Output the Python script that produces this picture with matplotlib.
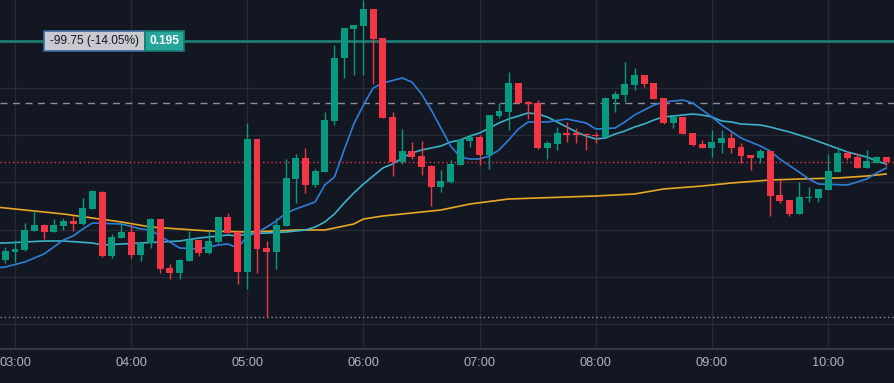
import numpy as np
import matplotlib.pyplot as plt
from matplotlib.patches import Rectangle

# 5-minute candles, first one at 02:55
opens = [0.1731, 0.1739, 0.1741, 0.1760, 0.1766, 0.1759, 0.1765, 0.1770, 0.1767, 0.1782,
         0.1799, 0.1735, 0.1753, 0.1759, 0.1736, 0.1748, 0.1772, 0.1723, 0.1718, 0.1730,
         0.1751, 0.1738, 0.1749, 0.1774, 0.1759, 0.1719, 0.1852, 0.1743, 0.1739, 0.1765,
         0.1812, 0.1833, 0.1806, 0.1819, 0.1870, 0.1933, 0.1962, 0.1965, 0.1982, 0.1953,
         0.1874, 0.1829, 0.1840, 0.1835, 0.1825, 0.1804, 0.1809, 0.1826, 0.1850, 0.1854,
         0.1836, 0.1875, 0.1879, 0.1908, 0.1889, 0.1888, 0.1843, 0.1847, 0.1858, 0.1858,
         0.1857, 0.1856, 0.1854, 0.1892, 0.1896, 0.1906, 0.1916, 0.1908, 0.1893, 0.1868,
         0.1874, 0.1858, 0.1847, 0.1843, 0.1848, 0.1853, 0.1844, 0.1836, 0.1833, 0.1840,
         0.1796, 0.1791, 0.1777, 0.1793, 0.1793, 0.1801, 0.1819, 0.1838, 0.1834, 0.1823,
         0.1828, 0.1834]
highs = [0.1744, 0.1751, 0.1768, 0.1780, 0.1767, 0.1772, 0.1773, 0.1775, 0.1793, 0.1801,
         0.1800, 0.1757, 0.1767, 0.1767, 0.1748, 0.1773, 0.1772, 0.1727, 0.1732, 0.1760,
         0.1751, 0.1760, 0.1774, 0.1778, 0.1761, 0.1868, 0.1852, 0.1750, 0.1773, 0.1832,
         0.1837, 0.1843, 0.1822, 0.1879, 0.1946, 0.1963, 0.1966, 0.1991, 0.1982, 0.1953,
         0.1879, 0.1862, 0.1849, 0.1850, 0.1826, 0.1821, 0.1831, 0.1852, 0.1857, 0.1856,
         0.1876, 0.1888, 0.1919, 0.1908, 0.1890, 0.1891, 0.1850, 0.1864, 0.1869, 0.1863,
         0.1858, 0.1859, 0.1894, 0.1900, 0.1929, 0.1923, 0.1916, 0.1908, 0.1893, 0.1874,
         0.1874, 0.1858, 0.1851, 0.1861, 0.1861, 0.1859, 0.1848, 0.1836, 0.1842, 0.1840,
         0.1811, 0.1791, 0.1809, 0.1804, 0.1802, 0.1837, 0.1844, 0.1840, 0.1838, 0.1841,
         0.1835, 0.1834]
lows = [0.1728, 0.1729, 0.1740, 0.1760, 0.1752, 0.1759, 0.1761, 0.1760, 0.1766, 0.1782,
        0.1734, 0.1733, 0.1753, 0.1733, 0.1730, 0.1743, 0.1718, 0.1712, 0.1712, 0.1730,
        0.1735, 0.1737, 0.1748, 0.1758, 0.1707, 0.1702, 0.1718, 0.1674, 0.1722, 0.1765,
        0.1788, 0.1798, 0.1804, 0.1819, 0.1866, 0.1913, 0.1916, 0.1916, 0.1907, 0.1873,
        0.1815, 0.1827, 0.1832, 0.1816, 0.1785, 0.1799, 0.1808, 0.1826, 0.1844, 0.1826,
        0.1822, 0.1873, 0.1861, 0.1888, 0.1872, 0.1842, 0.1832, 0.1841, 0.1849, 0.1848,
        0.1841, 0.1848, 0.1854, 0.1879, 0.1889, 0.1901, 0.1904, 0.1892, 0.1867, 0.1863,
        0.1857, 0.1845, 0.1843, 0.1834, 0.1838, 0.1838, 0.1828, 0.1821, 0.1828, 0.1775,
        0.1788, 0.1775, 0.1777, 0.1789, 0.1789, 0.1801, 0.1819, 0.1831, 0.1823, 0.1823,
        0.1828, 0.1825]
closes = [0.1740, 0.1742, 0.1761, 0.1766, 0.1759, 0.1766, 0.1770, 0.1767, 0.1783, 0.1800,
          0.1735, 0.1754, 0.1759, 0.1736, 0.1748, 0.1772, 0.1722, 0.1718, 0.1731, 0.1751,
          0.1738, 0.1750, 0.1774, 0.1758, 0.1719, 0.1852, 0.1742, 0.1739, 0.1766, 0.1813,
          0.1833, 0.1806, 0.1820, 0.1871, 0.1933, 0.1963, 0.1966, 0.1982, 0.1952, 0.1873,
          0.1829, 0.1840, 0.1834, 0.1824, 0.1804, 0.1810, 0.1827, 0.1851, 0.1854, 0.1836,
          0.1876, 0.1880, 0.1908, 0.1888, 0.1887, 0.1843, 0.1848, 0.1858, 0.1856, 0.1856,
          0.1856, 0.1855, 0.1893, 0.1897, 0.1907, 0.1916, 0.1907, 0.1892, 0.1868, 0.1874,
          0.1857, 0.1846, 0.1843, 0.1849, 0.1853, 0.1843, 0.1835, 0.1833, 0.1840, 0.1795,
          0.1790, 0.1777, 0.1794, 0.1794, 0.1802, 0.1820, 0.1838, 0.1833, 0.1823, 0.1830,
          0.1834, 0.1829]

# moving average lines (x = candle index)
fast_x = [-1, 0, 2, 4, 6, 7, 8, 9, 12, 14, 15, 17, 18, 20, 22, 23, 24, 25, 26, 28, 29, 30,
          32, 33, 34, 35, 36, 37, 38, 39, 41, 42, 43, 44, 45, 46, 47, 48, 49, 50, 51, 52,
          53, 54, 56, 58, 59, 60, 61, 63, 64, 65, 66, 67, 68, 70, 71, 72, 73, 74, 76, 78,
          79, 80, 82, 83, 84, 87, 89, 90, 91]
fast_y = [0.1723, 0.1724, 0.1729, 0.1737, 0.1751, 0.1755, 0.1762, 0.1768, 0.1767, 0.1762,
          0.1761, 0.1749, 0.1743, 0.1742, 0.1746, 0.1747, 0.1743, 0.1755, 0.1758, 0.1770,
          0.1778, 0.1782, 0.1789, 0.1806, 0.1814, 0.1841, 0.1867, 0.1886, 0.1903, 0.1908,
          0.1913, 0.1909, 0.1897, 0.1881, 0.1863, 0.1845, 0.1834, 0.1832, 0.1832, 0.1835,
          0.1841, 0.1851, 0.1862, 0.1869, 0.1869, 0.1872, 0.1870, 0.1868, 0.1862, 0.1863,
          0.1869, 0.1876, 0.1881, 0.1886, 0.1889, 0.1891, 0.1888, 0.1881, 0.1874, 0.1866,
          0.1853, 0.1845, 0.1840, 0.1832, 0.1819, 0.1812, 0.1807, 0.1806, 0.1812, 0.1818,
          0.1823]

slow_x = [-1, 0, 2, 4, 6, 9, 10, 12, 14, 16, 18, 20, 23, 24, 25, 27, 29, 31, 32, 33,
          34, 35, 36, 37, 38, 39, 40, 41, 42, 43, 44, 45, 46, 47, 48, 49, 50, 51, 52, 53,
          54, 55, 56, 57, 58, 59, 60, 61, 62, 63, 64, 65, 66, 67, 68, 69, 70, 71, 72, 73,
          74, 75, 76, 78, 79, 81, 83, 85, 87, 89, 90, 91]
slow_y = [0.1748, 0.1748, 0.1749, 0.1750, 0.1750, 0.1748, 0.1746, 0.1747, 0.1748, 0.1749,
          0.1750, 0.1753, 0.1756, 0.1755, 0.1757, 0.1758, 0.1759, 0.1761, 0.1764, 0.1769,
          0.1777, 0.1788, 0.1798, 0.1807, 0.1815, 0.1823, 0.1827, 0.1833, 0.1838, 0.1841,
          0.1843, 0.1845, 0.1849, 0.1851, 0.1855, 0.1858, 0.1863, 0.1868, 0.1872, 0.1875,
          0.1878, 0.1877, 0.1874, 0.1869, 0.1864, 0.1859, 0.1855, 0.1852, 0.1853, 0.1857,
          0.1860, 0.1864, 0.1867, 0.1871, 0.1874, 0.1875, 0.1876, 0.1877, 0.1876, 0.1874,
          0.1870, 0.1869, 0.1867, 0.1866, 0.1864, 0.1859, 0.1853, 0.1846, 0.1839, 0.1834,
          0.1830, 0.1827]

long_x = [-1, 0, 3, 6, 9, 12, 15, 18, 21, 25, 28, 30, 33, 34, 36, 37, 39, 41, 45, 48,
          52, 55, 61, 65, 68, 72, 75, 79, 82, 86, 89, 91]
long_y = [0.1784, 0.1783, 0.1780, 0.1777, 0.1773, 0.1769, 0.1764, 0.1762, 0.1760, 0.1759,
          0.1760, 0.1761, 0.1761, 0.1763, 0.1767, 0.1772, 0.1775, 0.1777, 0.1781, 0.1787,
          0.1792, 0.1793, 0.1795, 0.1797, 0.1802, 0.1805, 0.1808, 0.1811, 0.1812, 0.1813,
          0.1815, 0.1817]

# horizontal levels
target_level = 0.1950
dashed_level = 0.1888
last_level = 0.1829
low_level = 0.1674

tick_pos = [1, 13, 25, 37, 49, 61, 73, 85]
tick_labels = ['03:00', '04:00', '05:00', '06:00', '07:00', '08:00', '09:00', '10:00']
grid_levels = [0.1950, 0.1903, 0.1856, 0.1809, 0.1761, 0.1714, 0.1667]

BG = '#131722'
GREEN = '#089981'
RED = '#f23645'
GRID = '#262a35'

W, H = 895, 383
fig = plt.figure(figsize=(W / 100, H / 100), dpi=100, facecolor=BG)
ax = fig.add_axes([0, 34 / H, 1, 349 / H])
ax.set_facecolor(BG)

o = np.array(opens)
c = np.array(closes)
hi = np.array(highs)
lo = np.array(lows)
x = np.arange(len(o))
up = c >= o
colors = np.where(up, GREEN, RED)

# grid
for g in grid_levels:
    ax.axhline(g, color=GRID, lw=1, zorder=0)
for t in tick_pos:
    ax.axvline(t, color=GRID, lw=1, zorder=0)

# reference levels
ax.axhline(target_level, color='#1f7a70', lw=2, zorder=1)
ax.axhline(dashed_level, color='#8c8f99', lw=1, ls=(0, (5, 4)), zorder=1)
ax.axhline(last_level, color=RED, lw=1, ls=(0, (1, 2)), zorder=1)
ax.axhline(low_level, color='#8c8f99', lw=1, ls=(0, (1, 2)), zorder=1)

# moving averages
ax.plot(long_x, long_y, color='#e8a826', lw=1.2, zorder=2)
ax.plot(slow_x, slow_y, color='#3cb0c8', lw=1.2, zorder=2)
ax.plot(fast_x, fast_y, color='#2d7ed6', lw=1.2, zorder=2)

# candles
ax.vlines(x, lo, hi, colors=colors, lw=1, zorder=3)
body = np.maximum(np.abs(c - o), 0.00012)
ax.bar(x, body, bottom=np.minimum(o, c), width=0.72, color=colors, zorder=4, linewidth=0)

ax.set_xlim(-0.55, 91.91)
ax.set_ylim(0.1642, 0.1991)
ax.set_yticks([])
ax.set_xticks(tick_pos)
ax.set_xticklabels(tick_labels, fontfamily='Liberation Sans', fontsize=9.2, color='#b2b5be')
ax.tick_params(axis='x', length=0, pad=6)
for s in ['top', 'left', 'right']:
    ax.spines[s].set_visible(False)
ax.spines['bottom'].set_color('#3a3e4a')
ax.spines['bottom'].set_linewidth(1.2)

# price label boxes
def px_box(x0, y0, x1, y1, face, edge):
    r = Rectangle((x0 / W, 1 - y1 / H), (x1 - x0) / W, (y1 - y0) / H,
                  transform=fig.transFigure, facecolor=face, edgecolor=edge, lw=1.2, zorder=10)
    fig.add_artist(r)

px_box(44, 31, 145, 51, '#c9cacf', '#3b6aa0')
px_box(145, 31, 184, 51, '#26a69a', '#1b7a70')
fig.text(94.5 / W, 1 - 41 / H, '-99.75 (-14.05%)', ha='center', va='center',
         fontfamily='Liberation Sans', fontsize=8.6, color='#131722', zorder=11)
fig.text(164.5 / W, 1 - 41 / H, '0.195', ha='center', va='center',
         fontfamily='Liberation Sans', fontweight='bold', fontsize=8.6, color='white', zorder=11)

fig.savefig('out.png', dpi=100, facecolor=BG)
